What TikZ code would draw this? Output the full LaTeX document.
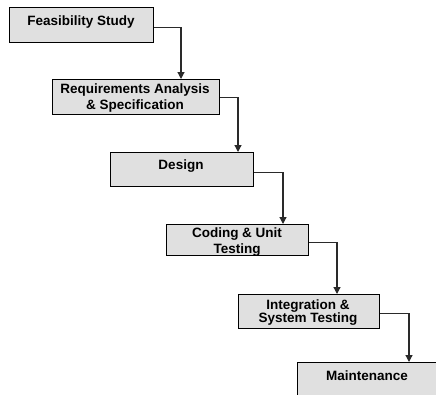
\documentclass[tikz,border=0pt]{standalone}
\usepackage{fontspec}
\setmainfont{Liberation Sans}
\usetikzlibrary{arrows.meta}
\definecolor{boxfill}{HTML}{E0E0E0}
\definecolor{linkgray}{HTML}{2A2A2A}
\tikzset{
  phase/.style={draw=black, line width=1.4pt, fill=boxfill, rectangle,
    anchor=north west, inner sep=0pt, align=center,
    font=\fontsize{13.5}{16}\selectfont\bfseries},
  flow/.style={draw=linkgray, line width=1.2pt,
    -{Triangle[width=7pt,length=7pt]}}
}
\begin{document}
\begin{tikzpicture}[x=1pt,y=-1pt]
  \useasboundingbox (0,0) rectangle (436,394);
  \clip (0,0) rectangle (436,394);
  % the six phases of the waterfall
  \node[phase, minimum width=144pt, minimum height=35pt] (fs) at (9,7) {};
  \node[font=\fontsize{13.5}{16}\selectfont\bfseries] (fst) at (81,22) {Feasibility Study};
  \node[phase, minimum width=167pt, minimum height=35pt] (ra) at (52,79) {};
  \node[font=\fontsize{13.5}{16}\selectfont\bfseries, align=center] (rat) at (135,98) {Requirements Analysis\\\& Specification};
  \node[phase, minimum width=143pt, minimum height=34pt] (de) at (110,152) {};
  \node[font=\fontsize{13.5}{16}\selectfont\bfseries] (det) at (181,166) {Design};
  \node[phase, minimum width=142pt, minimum height=31pt] (cu) at (166,224) {};
  \node[font=\fontsize{13.5}{16}\selectfont\bfseries, align=center] (cut) at (237,242) {Coding \& Unit\\Testing};
  \node[phase, minimum width=141pt, minimum height=34pt] (is) at (238,294) {};
  \node[font=\fontsize{13.5}{13}\selectfont\bfseries, align=center] (ist) at (308,313) {Integration \&\\System Testing};
  \node[phase, minimum width=141pt, minimum height=34pt] (mn) at (297,362) {};
  \node[font=\fontsize{13.5}{16}\selectfont\bfseries] (mnt) at (367,376) {Maintenance};
  % connectors stepping down from each phase to the next
  \draw[flow] ([yshift=-2.5pt]fs.east) -| ([xshift=129pt]ra.north west);
  \draw[flow] ([yshift=-0.5pt]ra.east) -| ([xshift=128pt]de.north west);
  \draw[flow] ([yshift=-3pt]de.east) -| ([xshift=117pt]cu.north west);
  \draw[flow] ([yshift=-2.5pt]cu.east) -| ([xshift=99pt]is.north west);
  \draw[flow] ([yshift=-2pt]is.east) -| ([xshift=112pt]mn.north west);
\end{tikzpicture}
\end{document}
